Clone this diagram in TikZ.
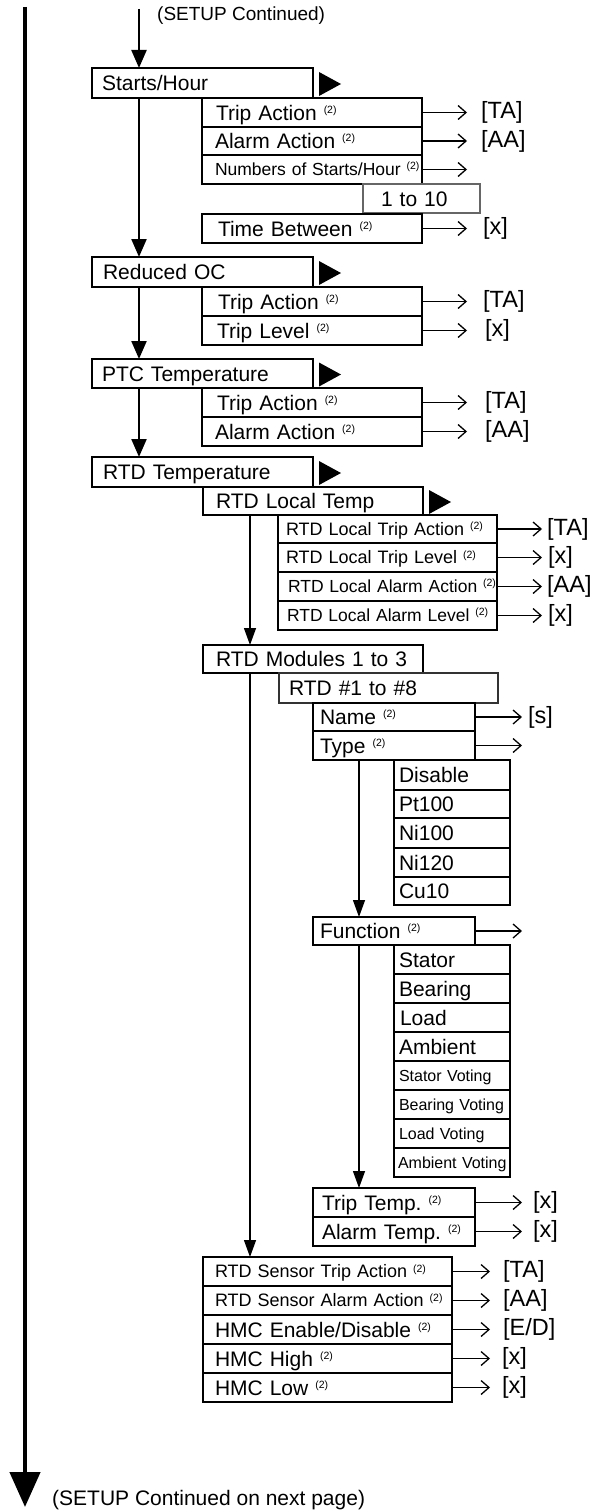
\documentclass[tikz,border=0pt]{standalone}
\usepackage{fontspec}
\setmainfont{Liberation Sans}
\usetikzlibrary{arrows.meta,calc}

\newcommand\fs[1]{\fontsize{#1}{#1}\selectfont}
\newcommand\sups{\raisebox{0.33em}{\fs{10.5}(2)}}
% style, name, x1, y1, x2, y2, left pad, text
\newcommand\bx[8]{%
  \pgfmathsetmacro\bxw{#5-#3-2*#7}%
  \pgfmathsetmacro\bxh{#6-#4}%
  \node[#1, anchor=north west, inner xsep=#7pt, inner ysep=0pt, outer sep=0pt,
        text width=\bxw pt, minimum height=\bxh pt, align=left] (#2) at (#3,#4) {\mbox{#8}};}

\tikzset{
  tb/.style={draw, line width=2.7pt, font=\fs{21}, text height=15pt, text depth=0pt},
  nb/.style={draw, line width=1.2pt, font=\fs{21}, text height=15pt, text depth=0pt},
  smallA/.style={font=\fs{18}, text height=12.9pt},
  smallAA/.style={font=\fs{17.5}, text height=12.5pt},
  smallB/.style={font=\fs{17.5}, text height=12.5pt},
  smallC/.style={font=\fs{16}, text height=11.5pt},
  mainarrow/.style={line width=2.3pt, -{Triangle[length=18pt,width=15pt]}},
  thinarrow/.style={line width=1.3pt, -{Triangle[length=17pt,width=12pt]}},
  sa/.style={line width=1.3pt, -{Straight Barb[length=8pt,width=14pt]}},
  lab/.style={font=\fs{23.5}, inner sep=0pt, anchor=west},
  tri/.style={fill=black},
}

\begin{document}
\begin{tikzpicture}[x=1pt,y=-1pt]
\fill[white] (0,0) rectangle (603,1512);
\useasboundingbox (0,0) rectangle (603,1512);

% main left line
\coordinate (mtop) at (25,7);
\coordinate (mbot) at (25,1507);
\draw[line width=4.5pt, -{Triangle[length=35pt,width=30pt]}] (mtop) -- (mbot);
\node[font=\fs{19}, anchor=west, inner sep=0pt] (setupc) at (157,16) {(SETUP Continued)};
\node[font=\fs{21}, anchor=west, inner sep=0pt] (setupn) at (52,1500) {(SETUP Continued on next page)};

% ---------- Starts/Hour ----------
\bx{nb}{s1}{202}{98}{422}{127}{14}{Trip Action \sups}
\bx{nb}{s2}{202}{127}{422}{155}{13}{Alarm Action \sups}
\bx{nb,smallB}{s3}{202}{155}{422}{184}{13}{Numbers of Starts/Hour \sups}
\bx{nb,draw=black!60}{s4}{363}{184}{480}{213}{18}{1 to 10}
\bx{nb}{s5}{202}{214}{422}{243}{16}{Time Between \sups}
\bx{tb}{sh}{92}{68}{313}{98}{10}{Starts/Hour}
\coordinate (topin) at (139,9);
\draw[mainarrow] (topin) -- ([xshift=47pt]sh.north west);
\fill[tri] ($(sh.east)+(6,-11)$) -- ++(22,12) -- ++(-22,12) -- cycle;

\draw[sa] (s1.east) -- ++(45,0) coordinate (s1e);
\node[lab] (s1l) at ([xshift=14pt]s1e) {[TA]};
\draw[sa] (s2.east) -- ++(45,0) coordinate (s2e);
\node[lab] (s2l) at ([xshift=14pt]s2e) {[AA]};
\draw[sa] (s3.east) -- ++(45,0) coordinate (s3e);
\draw[sa] (s5.east) -- ++(45,0) coordinate (s5e);
\node[lab] (s5l) at ([xshift=16pt]s5e) {[x]};

% ---------- Reduced OC ----------
\bx{nb}{r1}{202}{287}{422}{316}{16}{Trip Action \sups}
\bx{nb}{r2}{202}{316}{422}{345}{15}{Trip Level \sups}
\bx{tb}{roc}{92}{257}{313}{287}{11}{Reduced OC}
\fill[tri] ($(roc.east)+(6,-11)$) -- ++(22,12) -- ++(-22,12) -- cycle;
\draw[mainarrow] ([xshift=47pt]sh.south west) -- ([xshift=47pt]roc.north west);
\draw[sa] (r1.east) -- ++(45,0) coordinate (r1e);
\node[lab] (r1l) at ([xshift=16pt]r1e) {[TA]};
\draw[sa] (r2.east) -- ++(45,0) coordinate (r2e);
\node[lab] (r2l) at ([xshift=18pt]r2e) {[x]};

% ---------- PTC Temperature ----------
\bx{nb}{p1}{202}{388}{422}{417}{15}{Trip Action \sups}
\bx{nb}{p2}{202}{417}{422}{446}{13}{Alarm Action \sups}
\bx{tb}{ptc}{92}{359}{313}{388}{10}{PTC Temperature}
\fill[tri] ($(ptc.east)+(6,-11)$) -- ++(22,12) -- ++(-22,12) -- cycle;
\draw[mainarrow] ([xshift=47pt]roc.south west) -- ([xshift=47pt]ptc.north west);
\draw[sa] (p1.east) -- ++(45,0) coordinate (p1e);
\node[lab] (p1l) at ([xshift=18pt]p1e) {[TA]};
\draw[sa] (p2.east) -- ++(45,0) coordinate (p2e);
\node[lab] (p2l) at ([xshift=18pt]p2e) {[AA]};

% ---------- RTD Temperature ----------
\bx{nb}{lt}{203}{487}{423}{515}{13}{RTD Local Temp}
\bx{tb}{rtd}{92}{457}{313}{487}{11}{RTD Temperature}
\fill[tri] ($(rtd.east)+(6,-11)$) -- ++(22,12) -- ++(-22,12) -- cycle;
\fill[tri] ($(lt.east)+(6,-11)$) -- ++(22,12) -- ++(-22,12) -- cycle;
\draw[mainarrow] ([xshift=47pt]ptc.south west) -- ([xshift=47pt]rtd.north west);

\bx{nb,smallA}{l1}{278}{515}{497}{543}{8}{RTD Local Trip Action \sups}
\bx{nb,smallA}{l2}{278}{543}{497}{572}{8}{RTD Local Trip Level \sups}
\bx{nb,smallAA}{l3}{278}{572}{497}{601}{10}{RTD Local Alarm Action \sups}
\bx{nb,smallAA}{l4}{278}{601}{497}{630}{9}{RTD Local Alarm Level \sups}
\draw[sa] (l1.east) -- ++(45,0) coordinate (l1e);
\node[lab] (l1l) at ([xshift=5pt]l1e) {[TA]};
\draw[sa] (l2.east) -- ++(45,0) coordinate (l2e);
\node[lab] (l2l) at ([xshift=6pt]l2e) {[x]};
\draw[sa] (l3.east) -- ++(45,0) coordinate (l3e);
\node[lab] (l3l) at ([xshift=5pt]l3e) {[AA]};
\draw[sa] (l4.east) -- ++(45,0) coordinate (l4e);
\node[lab] (l4l) at ([xshift=6pt]l4e) {[x]};

% ---------- RTD Modules ----------
\bx{nb}{mod}{203}{645}{423}{673}{13}{RTD Modules 1 to 3}
\draw[thinarrow] ([xshift=47pt]lt.south west) -- ([xshift=47pt]mod.north west);
\bx{nb,draw=black!80}{r18}{279}{673}{498}{703}{10}{RTD \#1 to \#8}
\bx{nb}{nm}{313}{703}{475}{731}{7}{Name \sups}
\bx{nb}{ty}{313}{731}{475}{760}{7}{Type \sups}
\draw[sa] (nm.east) -- ++(47,0) coordinate (nme);
\node[lab] (nml) at ([xshift=6pt]nme) {[s]};
\draw[sa] (ty.east) -- ++(47,0) coordinate (tye);

\bx{nb}{d1}{394}{760}{510}{790}{5}{Disable}
\bx{nb}{d2}{394}{790}{510}{818}{5}{Pt100}
\bx{nb}{d3}{394}{818}{510}{848}{5}{Ni100}
\bx{nb}{d4}{394}{848}{510}{877}{5}{Ni120}
\bx{nb}{d5}{394}{877}{510}{905}{5}{Cu10}

\bx{nb}{fn}{313}{917}{475}{945}{7}{Function \sups}
\draw[thinarrow] ([xshift=46pt]ty.south west) -- ([xshift=46pt]fn.north west);
\draw[sa] (fn.east) -- ++(47,0) coordinate (fne);

\bx{nb}{f1}{394}{945}{510}{974}{5}{Stator}
\bx{nb}{f2}{394}{974}{510}{1003}{5}{Bearing}
\bx{nb}{f3}{394}{1003}{510}{1032}{6}{Load}
\bx{nb}{f4}{394}{1032}{510}{1061}{5}{Ambient}
\bx{nb,smallC}{f5}{394}{1061}{510}{1090}{5}{Stator Voting}
\bx{nb,smallC}{f6}{394}{1090}{510}{1119}{5}{Bearing Voting}
\bx{nb,smallC}{f7}{394}{1119}{510}{1148}{5}{Load Voting}
\bx{nb,smallC}{f8}{394}{1148}{510}{1177}{4}{Ambient Voting}

\bx{nb}{tt}{313}{1188}{475}{1217}{9}{Trip Temp.\ \sups}
\bx{nb}{at}{313}{1217}{475}{1246}{9}{Alarm Temp.\ \sups}
\draw[thinarrow] ([xshift=46pt]fn.south west) -- ([xshift=46pt]tt.north west);
\draw[sa] (tt.east) -- ++(47,0) coordinate (tte);
\node[lab] (ttl) at ([xshift=11pt]tte) {[x]};
\draw[sa] (at.east) -- ++(47,0) coordinate (ate);
\node[lab] (atl) at ([xshift=11pt]ate) {[x]};

% ---------- RTD Sensor / HMC ----------
\bx{nb,smallA}{e1}{203}{1257}{452}{1286}{12}{RTD Sensor Trip Action \sups}
\bx{nb,smallA}{e2}{203}{1286}{452}{1315}{12}{RTD Sensor Alarm Action \sups}
\bx{nb}{e3}{203}{1315}{452}{1344}{12}{HMC Enable/Disable \sups}
\bx{nb}{e4}{203}{1344}{452}{1373}{12}{HMC High \sups}
\bx{nb}{e5}{203}{1373}{452}{1402}{12}{HMC Low \sups}
\draw[thinarrow] ([xshift=47pt]mod.south west) -- ([xshift=47pt]e1.north west);
\draw[sa] (e1.east) -- ++(38,0) coordinate (e1e);
\node[lab] (e1l) at ([xshift=13pt]e1e) {[TA]};
\draw[sa] (e2.east) -- ++(38,0) coordinate (e2e);
\node[lab] (e2l) at ([xshift=13pt]e2e) {[AA]};
\draw[sa] (e3.east) -- ++(38,0) coordinate (e3e);
\node[lab] (e3l) at ([xshift=13pt]e3e) {[E/D]};
\draw[sa] (e4.east) -- ++(38,0) coordinate (e4e);
\node[lab] (e4l) at ([xshift=12pt]e4e) {[x]};
\draw[sa] (e5.east) -- ++(38,0) coordinate (e5e);
\node[lab] (e5l) at ([xshift=12pt]e5e) {[x]};
\end{tikzpicture}
\end{document}
